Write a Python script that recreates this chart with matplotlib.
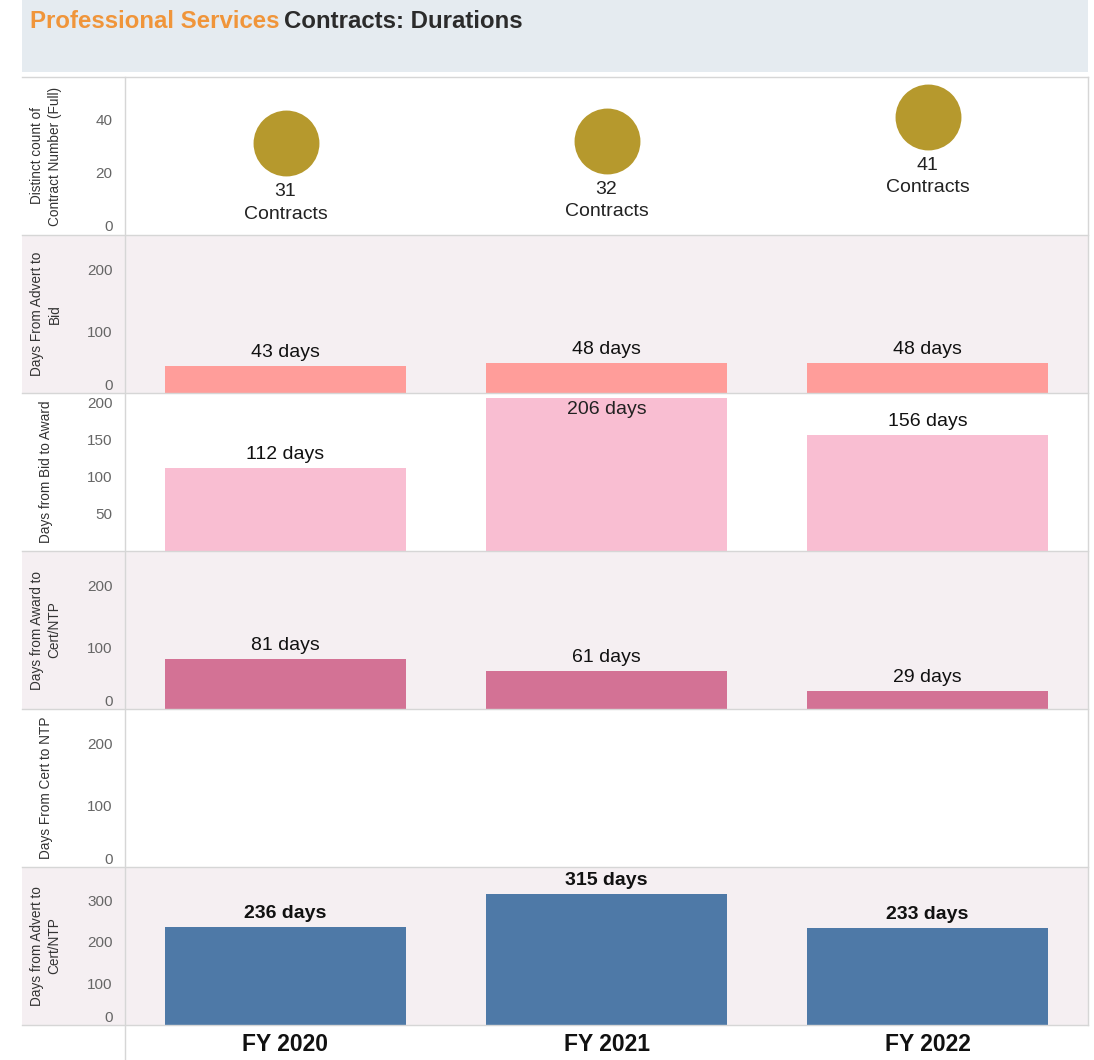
import matplotlib
matplotlib.use('Agg')
import matplotlib.pyplot as plt
from matplotlib.patches import Rectangle
from matplotlib.lines import Line2D
import numpy as np

plt.rcParams['font.family'] = ['Liberation Sans', 'DejaVu Sans']

# ---------------- data ----------------
years = ['FY 2020', 'FY 2021', 'FY 2022']
contracts = [31, 32, 41]
advert_to_bid = [43, 48, 48]
bid_to_award = [112, 206, 156]
award_to_cert = [81, 61, 29]
cert_to_ntp = []  # no data shown
advert_to_ntp = [236, 315, 233]

row_labels = ['Distinct count of\nContract Number (Full)',
              'Days From Advert to\nBid',
              'Days from Bid to Award',
              'Days from Award to\nCert/NTP',
              'Days From Cert to NTP',
              'Days from Advert to\nCert/NTP']

# ---------------- layout ----------------
W, H = 1094, 1060
fig = plt.figure(figsize=(W / 100, H / 100), dpi=100)
fig.patch.set_facecolor('white')


def fx(px):
    return px / W


def fy(py):
    return 1 - py / H


LEFT, RIGHT, OUTER = 125, 1088, 22
TOP0, ROWH = 77, 158
PINK = '#f5eff2'
GRID = '#d6d6d6'

# title band
fig.patches.append(Rectangle((fx(OUTER), fy(72)), fx(RIGHT) - fx(OUTER), 72 / H,
                             transform=fig.transFigure, facecolor='#e5ebf0',
                             edgecolor='none', zorder=-2))
t1 = fig.text(fx(30), fy(21), 'Professional Services', color='#f0953a',
              fontsize=17.3, fontweight='bold', va='center', ha='left')
fig.canvas.draw()
r = fig.canvas.get_renderer()
bb = t1.get_window_extent(renderer=r)
fig.text(bb.x1 / W + 5 / W, fy(21), 'Contracts: Durations', color='#2b2b2b',
         fontsize=17.3, fontweight='bold', va='center', ha='left')

x = np.arange(len(years))
bar_w = 0.75

panels = [
    ('scatter', contracts, None, (-3.4, 56), [0, 20, 40], False),
    ('bar', advert_to_bid, '#ff9d9a', (0, 255), [0, 100, 200], False),
    ('bar', bid_to_award, '#f9bed2', (0, 213), [50, 100, 150, 200], False),
    ('bar', award_to_cert, '#d37295', (0, 255), [0, 100, 200], False),
    ('bar', cert_to_ntp, '#aaaaaa', (0, 255), [0, 100, 200], False),
    ('bar', advert_to_ntp, '#4e79a7', (0, 380), [0, 100, 200, 300], True),
]

axes = []
for i, (kind, vals, col, ylim, ticks, bold) in enumerate(panels):
    top = TOP0 + ROWH * i
    if i % 2 == 1:
        fig.patches.append(Rectangle((fx(OUTER), fy(top + ROWH)), fx(RIGHT) - fx(OUTER),
                                     ROWH / H, transform=fig.transFigure,
                                     facecolor=PINK, edgecolor='none', zorder=-1))
    ax = fig.add_axes([fx(LEFT), fy(top + ROWH), fx(RIGHT) - fx(LEFT), ROWH / H])
    ax.patch.set_alpha(0)
    for s in ax.spines.values():
        s.set_visible(False)
    ax.set_xlim(-0.5, 2.5)
    ax.set_ylim(*ylim)
    ax.set_yticks(ticks)
    ax.set_yticklabels([str(t) for t in ticks])
    ax.tick_params(axis='y', length=0, pad=9, labelsize=11, labelcolor='#666666')
    ax.tick_params(axis='x', length=0)
    ax.set_xticks([])
    for lab, t in zip(ax.get_yticklabels(), ticks):
        if t == 0 and ylim[0] == 0:
            lab.set_va('bottom')

    if kind == 'scatter':
        ax.scatter(x, vals, s=2250, color='#b6992d', zorder=3, linewidths=0)
        for xi, v in zip(x, vals):
            ax.annotate(f'{v}\nContracts', (xi, v), xytext=(0, -40),
                        textcoords='offset pixels', ha='center', va='top',
                        fontsize=14, color='#222222', linespacing=1.4)
    else:
        if len(vals):
            ax.bar(x[:len(vals)], vals, width=bar_w, color=col, zorder=2)
            for xi, v in zip(x, vals):
                if v > 0.9 * ylim[1]:
                    ax.annotate(f'{v} days', (xi, v), xytext=(0, -3),
                                textcoords='offset pixels', ha='center', va='top',
                                fontsize=14, color='#222222',
                                fontweight='bold' if bold else 'normal')
                else:
                    ax.annotate(f'{v} days', (xi, v), xytext=(0, 5),
                                textcoords='offset pixels', ha='center', va='bottom',
                                fontsize=14, color='#111111',
                                fontweight='bold' if bold else 'normal')

    fig.text(fx(46), fy(top + ROWH / 2), row_labels[i], rotation=90,
             ha='center', va='center', fontsize=9.8, color='#333333',
             linespacing=1.3)
    axes.append(ax)

# bottom x labels
axb = axes[-1]
axb.set_xticks(x)
axb.set_xticklabels(years, fontsize=16.5, fontweight='bold', color='#111111')
axb.tick_params(axis='x', length=0, pad=6)

# separator lines
for i in range(7):
    yy = TOP0 + ROWH * i
    fig.add_artist(Line2D([fx(OUTER), fx(RIGHT)], [fy(yy), fy(yy)],
                          transform=fig.transFigure, color=GRID, lw=1, zorder=5))
fig.add_artist(Line2D([fx(LEFT), fx(LEFT)], [fy(TOP0), fy(H)],
                      transform=fig.transFigure, color=GRID, lw=1, zorder=5))
fig.add_artist(Line2D([fx(RIGHT), fx(RIGHT)], [fy(TOP0), fy(TOP0 + 6 * ROWH)],
                      transform=fig.transFigure, color=GRID, lw=1, zorder=5))

fig.savefig('out.png', dpi=100)
